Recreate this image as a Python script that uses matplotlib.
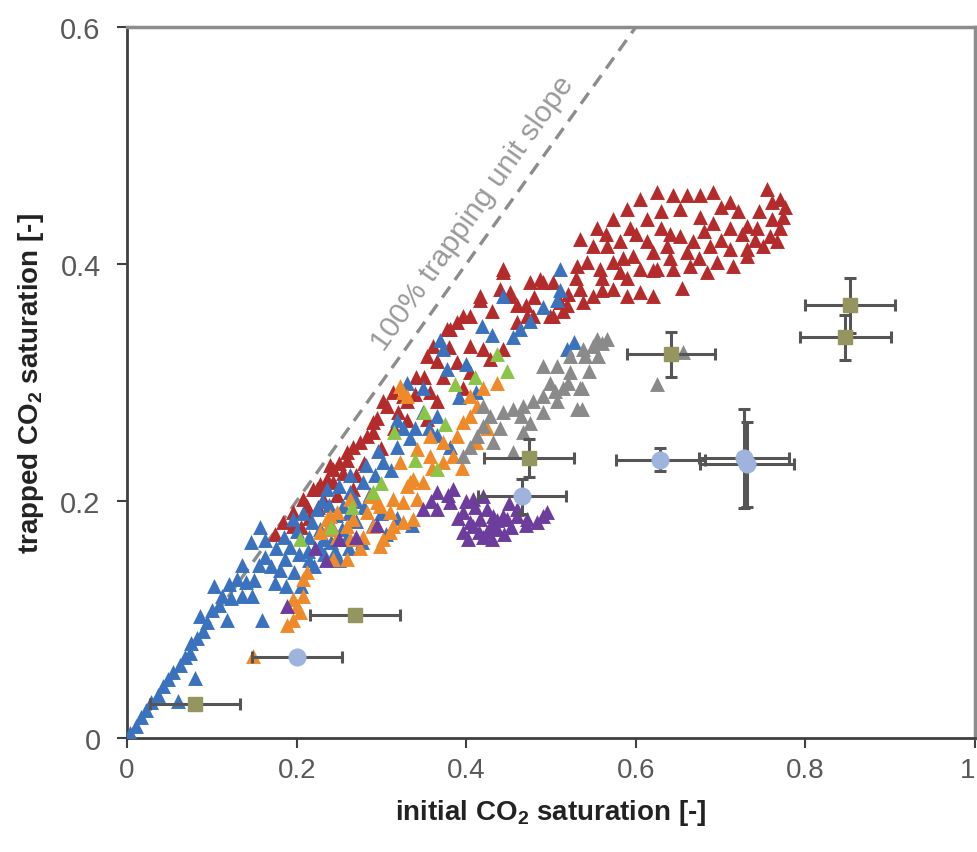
import numpy as np
import matplotlib
matplotlib.use('Agg')
import matplotlib.pyplot as plt

# Datos (x = Sg inicial, y = Sg atrapada)
blue_pts = [
    (0.004, 0.004), (0.010, 0.010), (0.016, 0.018), (0.022, 0.024), (0.028, 0.030),
    (0.036, 0.036), (0.042, 0.044), (0.048, 0.050), (0.054, 0.056), (0.060, 0.031),
    (0.063, 0.062), (0.068, 0.068), (0.074, 0.072), (0.080, 0.051), (0.076, 0.080),
    (0.083, 0.084), (0.090, 0.090), (0.094, 0.098), (0.086, 0.103), (0.100, 0.108),
    (0.109, 0.112), (0.118, 0.100), (0.112, 0.120), (0.122, 0.118), (0.103, 0.128),
    (0.120, 0.130), (0.130, 0.134), (0.136, 0.120), (0.147, 0.120), (0.159, 0.100),
    (0.150, 0.133), (0.136, 0.146), (0.156, 0.146), (0.163, 0.153), (0.174, 0.131),
    (0.146, 0.165), (0.163, 0.167), (0.176, 0.160), (0.186, 0.151), (0.192, 0.161),
    (0.203, 0.155), (0.213, 0.158), (0.226, 0.161), (0.240, 0.165), (0.185, 0.170),
    (0.200, 0.175), (0.214, 0.170), (0.227, 0.176), (0.240, 0.180), (0.253, 0.176),
    (0.270, 0.183), (0.157, 0.178), (0.196, 0.185), (0.208, 0.190), (0.224, 0.193),
    (0.238, 0.197), (0.255, 0.196), (0.270, 0.200), (0.286, 0.206), (0.236, 0.210),
    (0.250, 0.213), (0.263, 0.208), (0.263, 0.222), (0.278, 0.216), (0.292, 0.222),
    (0.302, 0.233), (0.311, 0.226), (0.296, 0.242), (0.318, 0.246), (0.318, 0.268),
    (0.334, 0.253), (0.340, 0.262), (0.349, 0.275), (0.366, 0.272), (0.366, 0.256),
    (0.381, 0.246), (0.349, 0.295), (0.330, 0.300), (0.377, 0.311), (0.373, 0.328),
    (0.369, 0.336), (0.400, 0.316), (0.418, 0.348), (0.430, 0.340), (0.443, 0.373),
    (0.455, 0.338), (0.463, 0.345), (0.475, 0.352), (0.490, 0.364), (0.507, 0.370),
    (0.511, 0.378), (0.510, 0.396), (0.519, 0.328), (0.527, 0.334), (0.392, 0.288),
    (0.412, 0.292), (0.300, 0.190), (0.318, 0.186), (0.336, 0.180), (0.290, 0.180),
    (0.305, 0.172), (0.250, 0.150), (0.262, 0.160), (0.277, 0.165), (0.220, 0.145),
    (0.197, 0.140), (0.205, 0.128), (0.188, 0.128), (0.180, 0.142), (0.215, 0.150),
    (0.232, 0.155), (0.245, 0.158), (0.258, 0.168), (0.232, 0.168), (0.218, 0.182),
    (0.246, 0.188), (0.262, 0.190), (0.280, 0.195), (0.230, 0.200), (0.140, 0.132),
    (0.170, 0.145), (0.282, 0.230), (0.325, 0.262), (0.356, 0.262),
]

red_pts = [
    (0.175, 0.172), (0.184, 0.182), (0.196, 0.191), (0.196, 0.179), (0.208, 0.202),
    (0.212, 0.196), (0.219, 0.210), (0.224, 0.210), (0.228, 0.214), (0.236, 0.219),
    (0.239, 0.230), (0.243, 0.216), (0.243, 0.227), (0.259, 0.235), (0.259, 0.241),
    (0.267, 0.210), (0.267, 0.246), (0.275, 0.250), (0.283, 0.255), (0.290, 0.258),
    (0.290, 0.267), (0.302, 0.284), (0.307, 0.280), (0.314, 0.292), (0.325, 0.289),
    (0.330, 0.284), (0.341, 0.305), (0.354, 0.322), (0.361, 0.331), (0.357, 0.292),
    (0.366, 0.284), (0.354, 0.269), (0.373, 0.305), (0.381, 0.345), (0.389, 0.317),
    (0.396, 0.356), (0.396, 0.295), (0.404, 0.331), (0.404, 0.309), (0.377, 0.345),
    (0.389, 0.351), (0.404, 0.356), (0.416, 0.370), (0.416, 0.373), (0.420, 0.328),
    (0.428, 0.320), (0.443, 0.328), (0.440, 0.379), (0.443, 0.393), (0.443, 0.396),
    (0.452, 0.376), (0.452, 0.373), (0.460, 0.351), (0.472, 0.356), (0.475, 0.385),
    (0.479, 0.356), (0.487, 0.387), (0.491, 0.385), (0.499, 0.356), (0.502, 0.385),
    (0.502, 0.356), (0.514, 0.360), (0.519, 0.365), (0.531, 0.398), (0.534, 0.379),
    (0.538, 0.368), (0.542, 0.402), (0.550, 0.373), (0.550, 0.415), (0.534, 0.421),
    (0.554, 0.430), (0.558, 0.396), (0.566, 0.415), (0.573, 0.438), (0.573, 0.402),
    (0.573, 0.379), (0.581, 0.419), (0.581, 0.393), (0.590, 0.446), (0.590, 0.373),
    (0.593, 0.430), (0.597, 0.407), (0.605, 0.455), (0.605, 0.396), (0.605, 0.376),
    (0.613, 0.438), (0.613, 0.419), (0.620, 0.373), (0.625, 0.461), (0.625, 0.396),
    (0.637, 0.415), (0.644, 0.458), (0.644, 0.396), (0.652, 0.446), (0.652, 0.424),
    (0.660, 0.458), (0.664, 0.398), (0.667, 0.419), (0.676, 0.458), (0.676, 0.440),
    (0.684, 0.393), (0.688, 0.415), (0.691, 0.461), (0.691, 0.435), (0.696, 0.402),
    (0.711, 0.452), (0.711, 0.430), (0.711, 0.413), (0.715, 0.398), (0.731, 0.432),
    (0.731, 0.413), (0.731, 0.407), (0.743, 0.430), (0.750, 0.415), (0.755, 0.463),
    (0.758, 0.424), (0.766, 0.419), (0.770, 0.455), (0.770, 0.430), (0.774, 0.440),
    (0.776, 0.448), (0.760, 0.452), (0.720, 0.445), (0.700, 0.448), (0.630, 0.445),
    (0.640, 0.425), (0.600, 0.425), (0.620, 0.410), (0.660, 0.410), (0.700, 0.420),
    (0.740, 0.420), (0.560, 0.378), (0.520, 0.375), (0.480, 0.372), (0.460, 0.365),
    (0.430, 0.360), (0.350, 0.305), (0.330, 0.268), (0.315, 0.262), (0.300, 0.245),
    (0.280, 0.232), (0.270, 0.222), (0.255, 0.224), (0.248, 0.205), (0.232, 0.200),
    (0.215, 0.186), (0.205, 0.178), (0.620, 0.395), (0.655, 0.380), (0.590, 0.388),
    (0.565, 0.425), (0.585, 0.405), (0.630, 0.430), (0.680, 0.428), (0.725, 0.425),
    (0.760, 0.438), (0.745, 0.445), (0.675, 0.405), (0.640, 0.405), (0.365, 0.318),
    (0.320, 0.275), (0.295, 0.270), (0.340, 0.290), (0.380, 0.330), (0.470, 0.365),
    (0.510, 0.368), (0.530, 0.388), (0.560, 0.388), (0.250, 0.232), (0.225, 0.195),
]

orange_pts = [
    (0.149, 0.069), (0.189, 0.095), (0.196, 0.100), (0.204, 0.106), (0.200, 0.111),
    (0.208, 0.120), (0.196, 0.117), (0.208, 0.134), (0.212, 0.140), (0.243, 0.151),
    (0.259, 0.151), (0.275, 0.160), (0.298, 0.162), (0.228, 0.174), (0.243, 0.176),
    (0.259, 0.179), (0.236, 0.185), (0.248, 0.191), (0.267, 0.185), (0.283, 0.191),
    (0.298, 0.196), (0.314, 0.202), (0.330, 0.213), (0.337, 0.219), (0.310, 0.174),
    (0.325, 0.182), (0.337, 0.185), (0.325, 0.292), (0.322, 0.297), (0.330, 0.289),
    (0.357, 0.255), (0.373, 0.250), (0.389, 0.255), (0.396, 0.267), (0.404, 0.272),
    (0.384, 0.238), (0.373, 0.233), (0.357, 0.238), (0.342, 0.244), (0.322, 0.233),
    (0.334, 0.216), (0.349, 0.216), (0.342, 0.202), (0.325, 0.199), (0.310, 0.191),
    (0.295, 0.199), (0.287, 0.204), (0.263, 0.202), (0.239, 0.187), (0.236, 0.176),
    (0.248, 0.170), (0.263, 0.168), (0.278, 0.170), (0.290, 0.179), (0.302, 0.168),
    (0.314, 0.179), (0.413, 0.280), (0.420, 0.295), (0.436, 0.300), (0.404, 0.289),
    (0.425, 0.262), (0.412, 0.250), (0.395, 0.228), (0.360, 0.228),
]

green_pts = [
    (0.204, 0.168), (0.290, 0.208), (0.366, 0.227), (0.387, 0.299), (0.436, 0.324),
    (0.340, 0.235), (0.315, 0.258), (0.265, 0.195), (0.300, 0.215), (0.410, 0.305),
    (0.448, 0.310), (0.375, 0.265), (0.240, 0.178), (0.350, 0.275),
]

gray_pts = [
    (0.554, 0.337), (0.538, 0.328), (0.522, 0.322), (0.507, 0.314), (0.522, 0.309),
    (0.491, 0.314), (0.499, 0.300), (0.514, 0.295), (0.534, 0.295), (0.531, 0.278),
    (0.491, 0.289), (0.479, 0.284), (0.467, 0.280), (0.455, 0.278), (0.443, 0.275),
    (0.428, 0.272), (0.420, 0.263), (0.413, 0.255), (0.404, 0.246), (0.396, 0.238),
    (0.491, 0.275), (0.507, 0.284), (0.467, 0.258), (0.455, 0.241), (0.420, 0.280),
    (0.566, 0.337), (0.550, 0.331), (0.540, 0.322), (0.625, 0.299), (0.656, 0.326),
    (0.536, 0.295), (0.536, 0.278), (0.560, 0.333), (0.545, 0.310), (0.520, 0.300),
    (0.505, 0.293), (0.475, 0.266), (0.440, 0.262), (0.432, 0.250), (0.465, 0.272),
    (0.555, 0.322),
]

purple_pts = [
    (0.366, 0.208), (0.384, 0.210), (0.408, 0.202), (0.396, 0.191), (0.408, 0.179),
    (0.420, 0.170), (0.396, 0.174), (0.436, 0.176), (0.432, 0.187), (0.448, 0.185),
    (0.460, 0.187), (0.472, 0.185), (0.495, 0.191), (0.483, 0.182), (0.425, 0.193),
    (0.420, 0.204), (0.381, 0.199), (0.366, 0.193), (0.349, 0.193), (0.404, 0.182),
    (0.415, 0.174), (0.443, 0.187), (0.460, 0.193), (0.470, 0.180), (0.491, 0.187),
    (0.428, 0.178), (0.445, 0.172), (0.410, 0.195), (0.450, 0.198), (0.390, 0.186),
    (0.189, 0.111), (0.250, 0.168), (0.222, 0.160), (0.235, 0.150), (0.270, 0.170),
    (0.295, 0.180), (0.400, 0.200), (0.416, 0.185), (0.425, 0.174), (0.436, 0.184),
    (0.453, 0.178), (0.402, 0.168), (0.430, 0.168), (0.378, 0.205), (0.358, 0.200),
]

# Medidas con barras de error (cuadrados oliva)
sq_x = [0.080, 0.269, 0.474, 0.641, 0.853, 0.847]
sq_y = [0.029, 0.104, 0.236, 0.324, 0.365, 0.338]
sq_xerr = [0.053, 0.053, 0.053, 0.052, 0.053, 0.054]
sq_yerr = [0.003, 0.005, 0.016, 0.019, 0.023, 0.019]

# Medidas con barras de error (circulos celestes)
ci_x = [0.200, 0.466, 0.629, 0.727, 0.731]
ci_y = [0.068, 0.204, 0.235, 0.236, 0.231]
ci_xerr = [0.053, 0.052, 0.052, 0.053, 0.055]
ci_yerr = [0.003, 0.015, 0.010, 0.042, 0.036]

x_ticks = [0, 0.2, 0.4, 0.6, 0.8, 1]
x_labels = ['0', '0.2', '0.4', '0.6', '0.8', '1']
y_ticks = [0, 0.2, 0.4, 0.6]
y_labels = ['0', '0.2', '0.4', '0.6']

plt.rcParams['font.family'] = ['Liberation Sans', 'DejaVu Sans']
plt.rcParams['mathtext.fontset'] = 'custom'
plt.rcParams['mathtext.bf'] = 'Liberation Sans:bold'
plt.rcParams['mathtext.rm'] = 'Liberation Sans'

fig = plt.figure(figsize=(9.78, 8.53), dpi=100)
ax = fig.add_axes([0.1299, 0.1336, 0.8671, 0.8336])

series = [
    (red_pts, '#b42b2b'),
    (blue_pts, '#3a72bd'),
    (orange_pts, '#ef8a2b'),
    (green_pts, '#8cc447'),
    (gray_pts, '#8a8a8a'),
    (purple_pts, '#6c3d9c'),
]
for pts, color in series:
    arr = np.array(pts)
    ax.scatter(arr[:, 0], arr[:, 1], marker='^', s=115, color=color,
               linewidths=0, zorder=3)

# Recta de pendiente unitaria
ax.plot([0, 0.6], [0, 0.6], linestyle=(0, (4, 2.5)), color='#8c8c8c',
        linewidth=2.4, zorder=2)

ax.errorbar(sq_x, sq_y, xerr=sq_xerr, yerr=sq_yerr, fmt='s', ms=10,
            mfc='#959560', mec='#959560', ecolor='#555555', elinewidth=2.2,
            capsize=4, capthick=2.2, zorder=5)
ax.errorbar(ci_x, ci_y, xerr=ci_xerr, yerr=ci_yerr, fmt='o', ms=12,
            mfc='#9fb4dd', mec='#9fb4dd', ecolor='#555555', elinewidth=2.2,
            capsize=4, capthick=2.2, zorder=5)

# Texto rotado paralelo a la recta
p0 = ax.transData.transform((0, 0))
p1 = ax.transData.transform((0.6, 0.6))
ang = np.degrees(np.arctan2(p1[1] - p0[1], p1[0] - p0[0]))
ax.text(0.408, 0.443, '100% trapping unit slope', rotation=ang,
        rotation_mode='anchor', ha='center', va='center', fontsize=21.5,
        color='#9a9a9a', zorder=4)

ax.set_xlim(0, 1)
ax.set_ylim(0, 0.6)
ax.set_xticks(x_ticks)
ax.set_xticklabels(x_labels, fontsize=20, color='#595959')
ax.get_xticklabels()[-1].set_horizontalalignment('right')
ax.set_yticks(y_ticks)
ax.set_yticklabels(y_labels, fontsize=21, color='#595959')
ax.tick_params(axis='x', direction='out', length=7, width=1.5,
               color='#404040', pad=7)
ax.tick_params(axis='y', direction='out', length=7, width=1.5,
               color='#404040', pad=12)

ax.set_xlabel(r'initial CO$_\mathbf{2}$ saturation [-]', fontsize=20,
              fontweight='bold', color='#222222', labelpad=10)
ax.set_ylabel(r'trapped CO$_\mathbf{2}$ saturation [-]', fontsize=20,
              fontweight='bold', color='#222222', labelpad=10)

for side in ['left', 'bottom']:
    ax.spines[side].set_color('#404040')
    ax.spines[side].set_linewidth(2)
for side in ['top', 'right']:
    ax.spines[side].set_color('#8c8c8c')
    ax.spines[side].set_linewidth(2.5)

fig.savefig('out.png', dpi=100)
